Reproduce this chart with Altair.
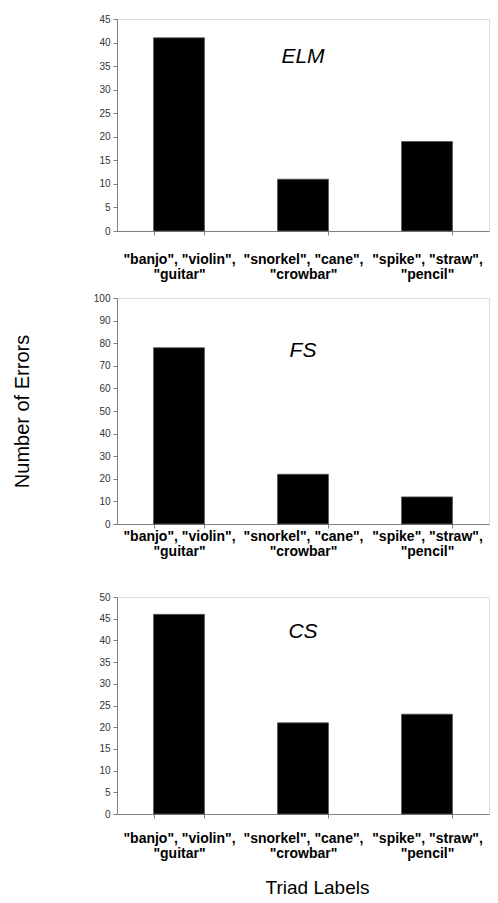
import altair as alt
import pandas as pd

categories = ['"banjo", "violin", "guitar"', '"snorkel", "cane", "crowbar"', '"spike", "straw", "pencil"']
elm_values = [41, 11, 19]
fs_values = [78, 22, 12]
cs_values = [46, 21, 23]
panel_names = ["ELM", "FS", "CS"]
y_max = [45, 100, 50]
y_step = [5, 10, 5]

FONT = "Liberation Sans"
label_expr = "[substring(datum.label, 0, lastindexof(datum.label, ' ')), substring(datum.label, lastindexof(datum.label, ' ') + 1)]"


def panel(values, name, ymax, step, height, label_y, label_pad,
          show_ytitle=False, show_xtitle=False, spacer=None):
    df = pd.DataFrame({"triad": categories, "errors": values})
    x_axis_kwargs = dict(
        labelAngle=0,
        labelExpr=label_expr,
        labelFont=FONT,
        labelFontSize=14,
        labelFontWeight="bold",
        labelColor="#000000",
        labelPadding=label_pad,
        labelLineHeight=15,
        tickBand="extent",
        tickSize=4,
        tickColor="#808080",
        domainColor="#808080",
    )
    if show_xtitle:
        x_axis_kwargs.update(
            title="Triad Labels",
            titleFont=FONT,
            titleFontSize=19,
            titleFontWeight="normal",
            titleColor="#000000",
            titlePadding=18,
            titleX=200,
        )
    else:
        x_axis_kwargs["title"] = None
    x = alt.X(
        "triad:N",
        sort=categories,
        scale=alt.Scale(paddingInner=0.589, paddingOuter=0.2945),
        axis=alt.Axis(**x_axis_kwargs),
    )
    y_axis_kwargs = dict(
        values=list(range(0, ymax + 1, step)),
        labelFont=FONT,
        labelFontSize=10,
        labelColor="#333333",
        tickSize=4,
        tickColor="#808080",
        domainColor="#808080",
        grid=False,
        labelPadding=3,
    )
    if show_ytitle:
        y_axis_kwargs.update(
            title="Number of Errors",
            titleFont=FONT,
            titleFontSize=20,
            titleFontWeight="normal",
            titleColor="#000000",
            titleX=-85,
        )
    else:
        y_axis_kwargs["title"] = None
    y = alt.Y("errors:Q", scale=alt.Scale(domain=[0, ymax], nice=False), axis=alt.Axis(**y_axis_kwargs))
    bars = alt.Chart(df).mark_bar(color="#000000", stroke="#555555", strokeWidth=0.8).encode(x=x, y=y)
    label = alt.Chart(pd.DataFrame({"triad": [categories[1]], "name": [name]})).mark_text(
        font=FONT, fontSize=21, fontStyle="italic", color="#000000", baseline="middle"
    ).encode(x=alt.X("triad:N", sort=categories), y=alt.value(label_y), text="name:N")
    props = dict(width=372, height=height)
    if spacer is not None:
        props["title"] = alt.TitleParams(text=".", color="#ffffff", fontSize=10, offset=spacer)
    return alt.layer(bars, label).properties(**props)


p1 = panel(elm_values, panel_names[0], y_max[0], y_step[0], 212, 38, 17)
p2 = panel(fs_values, panel_names[1], y_max[1], y_step[1], 226, 53, 1, show_ytitle=True)
p3 = panel(cs_values, panel_names[2], y_max[2], y_step[2], 217, 35, 13, show_xtitle=True, spacer=12)

chart = (
    alt.vconcat(p1, p2, p3, spacing=10)
    .properties(padding={"top": 5, "left": 3, "right": 0, "bottom": 0})
    .configure_view(strokeWidth=0)
    .configure(background="#ffffff")
)

chart.save("out.html", embed_options={"renderer": "svg", "actions": False})
